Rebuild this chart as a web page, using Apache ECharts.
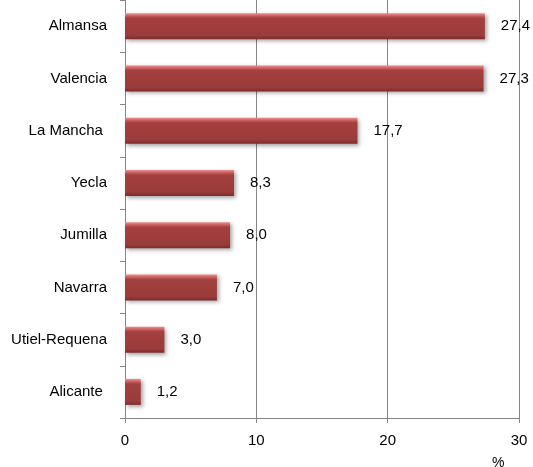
<!DOCTYPE html>
<html><head><meta charset="utf-8">
<script src="https://cdn.jsdelivr.net/npm/echarts@6/dist/echarts.min.js"></script>
<style>html,body{margin:0;padding:0;background:#fff}#c{width:533px;height:467px}</style>
</head><body><div id="c"></div>
<script>
const categories = ['Almansa','Valencia','La Mancha ','Yecla','Jumilla','Navarra','Utiel-Requena','Alicante '];
const values = [27.4, 27.3, 17.7, 8.3, 8.0, 7.0, 3.0, 1.2];
const xTicks = [0, 10, 20, 30];
const unitLabel = '%';

const FONT = 'Liberation Sans';
const chart = echarts.init(document.getElementById('c'));
chart.setOption({
  animation: false,
  backgroundColor: '#fff',
  grid: {left: 125, right: 14, top: -3, bottom: 49, containLabel: false},
  xAxis: {
    type: 'value', min: xTicks[0], max: xTicks[xTicks.length-1], interval: 10,
    axisLine: {show: true, lineStyle: {color: '#868686'}},
    axisTick: {show: true, length: 5, lineStyle: {color: '#868686'}},
    splitLine: {show: true, lineStyle: {color: '#868686', width: 1}},
    axisLabel: {color: '#000', fontFamily: FONT, fontSize: 15, margin: 15}
  },
  yAxis: {
    type: 'category', data: categories, inverse: true,
    axisLine: {show: true, lineStyle: {color: '#868686'}},
    axisTick: {show: true, length: 5, lineStyle: {color: '#868686'}},
    axisLabel: {color: '#000', fontFamily: FONT, fontSize: 15, margin: 18}
  },
  graphic: [{type: 'text', left: 492, top: 456, style: {text: unitLabel, font: '14px ' + FONT, fill: '#000'}}],
  series: [{
    type: 'bar', data: values, barWidth: 26,
    itemStyle: {
      color: new echarts.graphic.LinearGradient(0, 0, 0, 1, [
        {offset: 0, color: '#f29090'},
        {offset: 0.12, color: '#c45a5a'},
        {offset: 0.2, color: '#a33f3f'},
        {offset: 0.85, color: '#9c3b3b'},
        {offset: 1, color: '#7d2c2c'}
      ]),
      shadowColor: 'rgba(0,0,0,0.35)', shadowBlur: 4, shadowOffsetX: 2, shadowOffsetY: 2
    },
    label: {
      show: true, position: 'right', distance: 16, color: '#000',
      fontFamily: FONT, fontSize: 15,
      formatter: p => p.value.toFixed(1).replace('.', ',')
    }
  }]
});
</script></body></html>
